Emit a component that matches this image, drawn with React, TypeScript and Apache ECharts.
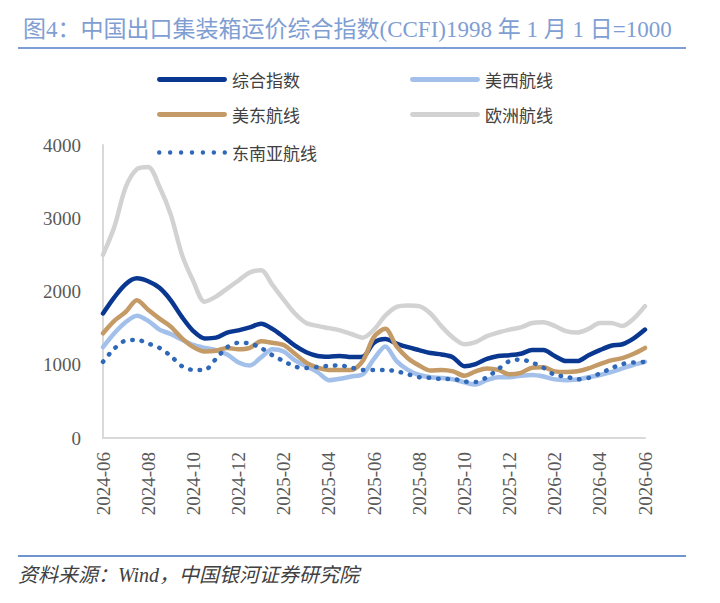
import { useEffect, useRef } from 'react'
import * as echarts from 'echarts'

const dates = [
  '2024-06-01', '2024-06-16', '2024-07-01', '2024-07-16', '2024-08-01', '2024-08-16',
  '2024-09-01', '2024-09-16', '2024-10-01', '2024-10-16', '2024-11-01', '2024-11-16',
  '2024-12-01', '2024-12-16', '2025-01-01', '2025-01-16', '2025-02-01', '2025-02-16',
  '2025-03-01', '2025-03-16', '2025-04-01', '2025-04-16', '2025-05-01', '2025-05-16',
  '2025-06-01', '2025-06-16', '2025-07-01', '2025-07-16', '2025-08-01', '2025-08-16',
  '2025-09-01', '2025-09-16', '2025-10-01', '2025-10-16', '2025-11-01', '2025-11-16',
  '2025-12-01', '2025-12-16', '2026-01-01', '2026-01-16', '2026-02-01', '2026-02-16',
  '2026-03-01', '2026-03-16', '2026-04-01', '2026-04-16', '2026-05-01', '2026-05-16',
  '2026-06-01',
]

const seriesNames = ['综合指数', '美西航线', '美东航线', '欧洲航线', '东南亚航线']

const composite = [
  1700, 1920, 2100, 2180, 2140, 2050, 1880, 1650, 1460, 1360, 1370, 1440, 1470,
  1510, 1560, 1490, 1380, 1260, 1170, 1120, 1110, 1120, 1105, 1110, 1300,
  1350, 1290, 1240, 1200, 1160, 1140, 1100, 980, 1010, 1080, 1120, 1130,
  1150, 1200, 1200, 1120, 1050, 1050, 1130, 1200, 1260, 1280, 1360, 1480,
]
const westUS = [
  1240, 1430, 1580, 1670, 1600, 1480, 1420, 1340, 1270, 1230, 1200, 1140, 1030,
  990, 1100, 1210, 1180, 1060, 980, 900, 790, 810, 840, 870, 1080,
  1250, 1050, 930, 860, 830, 820, 800, 760, 730, 790, 830, 830,
  850, 860, 840, 800, 790, 800, 830, 860, 900, 950, 1000, 1040,
]
const eastUS = [
  1430, 1600, 1720, 1880, 1750, 1630, 1520, 1360, 1240, 1180, 1190, 1230, 1210,
  1230, 1320, 1300, 1270, 1150, 1030, 960, 930, 930, 930, 1050, 1380,
  1490, 1250, 1090, 990, 920, 930, 910, 850, 910, 950, 930, 870,
  890, 960, 965, 910, 900, 910, 950, 1010, 1060, 1090, 1150, 1230,
]
const europe = [
  2500, 2880, 3420, 3670, 3700, 3430, 3050, 2500, 2140, 1860, 1930, 2040, 2150,
  2260, 2290, 2090, 1890, 1700, 1570, 1530, 1500, 1470, 1420, 1370, 1480,
  1670, 1790, 1810, 1800, 1700, 1520, 1370, 1280, 1310, 1390, 1440, 1480,
  1510, 1570, 1580, 1530, 1460, 1440, 1490, 1570, 1570, 1530, 1630, 1800,
]
const seAsia = [
  1040, 1220, 1330, 1340, 1290, 1230, 1120, 980, 930, 930, 1080, 1240, 1300,
  1290, 1230, 1130, 1050, 975, 955, 970, 985, 990, 960, 930, 930,
  930, 910, 870, 830, 820, 805, 805, 770, 765, 830, 940, 1050,
  1070, 1030, 960, 860, 840, 800, 820, 880, 950, 1010, 1030, 1040,
]

const seriesData = [composite, westUS, eastUS, europe, seAsia]
const colors = ['#0a3891', '#a3c0ea', '#c49a66', '#d2d2d2', '#2f68b8']

const serif = '"Liberation Serif", "Noto Sans CJK SC", serif'
const cjk = '"Noto Sans CJK SC", sans-serif'

// legend icons: a solid bar, and a row of dots for the dotted series
const barIcon = 'path://M2,0 L68,0 A2.5,2.5 0 0 1 68,5 L2,5 A2.5,2.5 0 0 1 2,0 Z'
const dotIcon =
  'path://' +
  [0, 1, 2, 3, 4, 5, 6]
    .map((k) => {
      const cx = 2.5 + k * 10.8
      return `M${cx - 2.2},2.5 A2.2,2.2 0 1 0 ${cx + 2.2},2.5 A2.2,2.2 0 1 0 ${cx - 2.2},2.5 Z`
    })
    .join(' ')

export default function App() {
  const chartRef = useRef<HTMLDivElement>(null)

  useEffect(() => {
    document.body.style.margin = '0'
    if (!chartRef.current) return
    const chart = echarts.init(chartRef.current, undefined, { renderer: 'svg' })

    // legend slots: [left, top]
    const legendPos = [
      [152, 66],
      [405, 66],
      [152, 101],
      [405, 101],
      [152, 139],
    ]

    const option: echarts.EChartsOption = {
      animation: false,
      backgroundColor: '#ffffff',
      title: {
        text: '图4：中国出口集装箱运价综合指数(CCFI)1998 年 1 月 1 日=1000',
        left: 18,
        top: 13,
        textStyle: {
          color: '#7f9ed3',
          fontSize: 23,
          fontWeight: 'normal',
          fontFamily: serif,
        },
      },
      legend: seriesNames.map((name, i) => ({
        data: [name],
        left: legendPos[i][0],
        top: legendPos[i][1],
        icon: i === 4 ? dotIcon : barIcon,
        itemWidth: 70,
        itemHeight: 5,
        itemGap: 6,
        textStyle: { color: '#404040', fontSize: 17, fontFamily: cjk },
      })),
      grid: { left: 103, right: 75, top: 145, bottom: 165 },
      xAxis: {
        type: 'category',
        data: dates,
        boundaryGap: false,
        axisLine: { lineStyle: { color: '#d9d9d9', width: 2 } },
        axisTick: { show: false },
        axisLabel: {
          interval: 3,
          rotate: 90,
          margin: 14,
          color: '#595959',
          fontSize: 19,
          fontFamily: serif,
          formatter: (v: string) => v.slice(0, 7),
        },
        splitLine: { show: false },
      },
      yAxis: {
        type: 'value',
        min: 0,
        max: 4000,
        interval: 1000,
        axisLine: { show: true, lineStyle: { color: '#d9d9d9', width: 2 } },
        axisTick: { show: false },
        axisLabel: {
          color: '#595959',
          fontSize: 19,
          fontFamily: serif,
          margin: 22,
          formatter: (v: number) => String(v),
        },
        splitLine: { show: false },
      },
      series: seriesNames.map((name, i) => ({
        name,
        type: 'line',
        data: seriesData[i],
        symbol: 'none',
        smooth: 0.3,
        color: colors[i],
        z: 2 + i,
        lineStyle: {
          color: colors[i],
          width: 4.5,
          type: i === 4 ? [0.5, 9] : 'solid',
          cap: 'round',
          join: 'round',
        },
      })),
      graphic: [
        {
          type: 'rect',
          shape: { x: 18, y: 47, width: 668, height: 2 },
          style: { fill: '#7d9fd6' },
        },
        {
          type: 'rect',
          shape: { x: 18, y: 555, width: 668, height: 2 },
          style: { fill: '#6f94d0' },
        },
        {
          type: 'text',
          left: 18,
          top: 565,
          style: {
            text: '资料来源：Wind，中国银河证券研究院',
            fill: '#404040',
            fontSize: 20,
            fontStyle: 'italic',
            fontFamily: serif,
          },
        },
      ],
    }

    chart.setOption(option)
    return () => {
      chart.dispose()
    }
  }, [])

  return <div ref={chartRef} style={{ width: 720, height: 603 }} />
}
